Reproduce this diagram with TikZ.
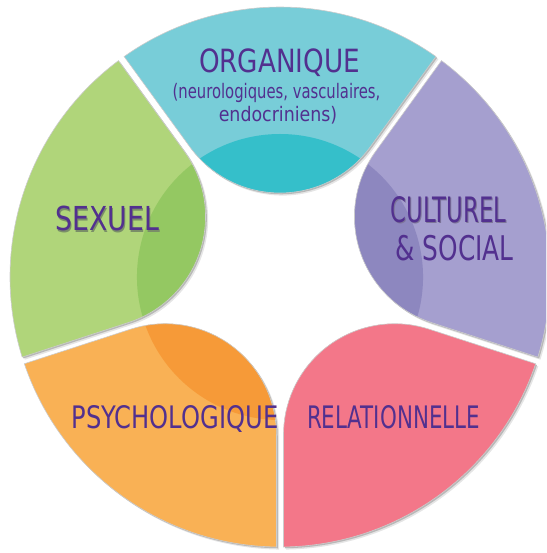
\documentclass[tikz,border=0pt]{standalone}
\usepackage{fontspec}
\setmainfont{DejaVu Sans}
\usepackage{graphicx}

\definecolor{tealL}{HTML}{78CDD8}
\definecolor{tealD}{HTML}{35BFCA}
\definecolor{greenL}{HTML}{B0D57A}
\definecolor{greenD}{HTML}{94C862}
\definecolor{violetL}{HTML}{A59FCF}
\definecolor{violetD}{HTML}{8D87BF}
\definecolor{orangeL}{HTML}{F9B155}
\definecolor{orangeD}{HTML}{F69A38}
\definecolor{pinkL}{HTML}{F37789}
\definecolor{ink}{HTML}{52308F}
\definecolor{shgreen}{HTML}{7A8E68}
\definecolor{shviolet}{HTML}{7C7598}

% one segment of the ring, axis along +x: outer arc, two straight sides
% parallel to the 36-degree rays, rounded inner end
\newcommand\petalpath{(-35.26:270pt) arc[start angle=-35.26, end angle=35.26, radius=270pt]
  -- (129.9pt,90pt) arc[start angle=126, end angle=234, radius=111.3pt] -- cycle}

% text with a small offset shadow underneath
\newcommand\shadowed[2]{\leavevmode\rlap{\kern1.3pt\raisebox{-1.3pt}{\textcolor{#1}{#2}}}#2}

\begin{document}
\begin{tikzpicture}[x=1pt,y=1pt,
  lbl/.style={text=ink, inner sep=0pt, anchor=base},
  big/.style={font=\fontsize{#1}{#1}\selectfont},
  edge/.style={draw=black!20, line width=0.6pt}]
\useasboundingbox (-280,-276) rectangle (266,277);
\clip (-280,-276) rectangle (266,277);

% shadows of the segments
\foreach \a in {90,162,234,306,18}{
  \fill[black!10, xshift=2.6pt, yshift=-2.6pt, rotate=\a] \petalpath;
  \fill[black!28, xshift=1.3pt, yshift=-1.3pt, rotate=\a] \petalpath;
}

% segments, each with its darker inner zone
\foreach \a/\cl/\cd in {90/tealL/tealD, 162/greenL/greenD, 234/orangeL/orangeD,
                        306/pinkL/pinkL, 18/violetL/violetD}{
  \begin{scope}[rotate=\a]
    \fill[\cl] \petalpath;
    \begin{scope}
      \clip \petalpath;
      \fill[\cd] (0,0) circle (143pt);
    \end{scope}
    \draw[edge] \petalpath;
  \end{scope}
}

% labels
\node[lbl, big=32] (organique) at (-0.5,204) {\scalebox{0.82}[1]{ORGANIQUE}};
\node[lbl, big=20] (organique1) at (-3.5,178.5) {\scalebox{0.74}[1]{(neurologiques, vasculaires,}};
\node[lbl, big=20] (organique2) at (-2,155.5) {\scalebox{0.87}[1]{endocriniens)}};
\node[lbl, big=33] (sexuel) at (-172.5,46) {\scalebox{0.81}[1]{\shadowed{shgreen}{SEXUEL}}};
\node[lbl, big=35] (culturel) at (168.5,54.5) {\scalebox{0.65}[1]{\shadowed{shviolet}{CULTUREL}}};
\node[lbl, big=34] (social) at (174.5,16) {\scalebox{0.73}[1]{\& SOCIAL}};
\node[lbl, big=31] (psycho) at (-105,-151.3) {\scalebox{0.78}[1]{PSYCHOLOGIQUE}};
\node[lbl, big=31] (relation) at (113.5,-151) {\scalebox{0.69}[1]{RELATIONNELLE}};
\end{tikzpicture}
\end{document}
